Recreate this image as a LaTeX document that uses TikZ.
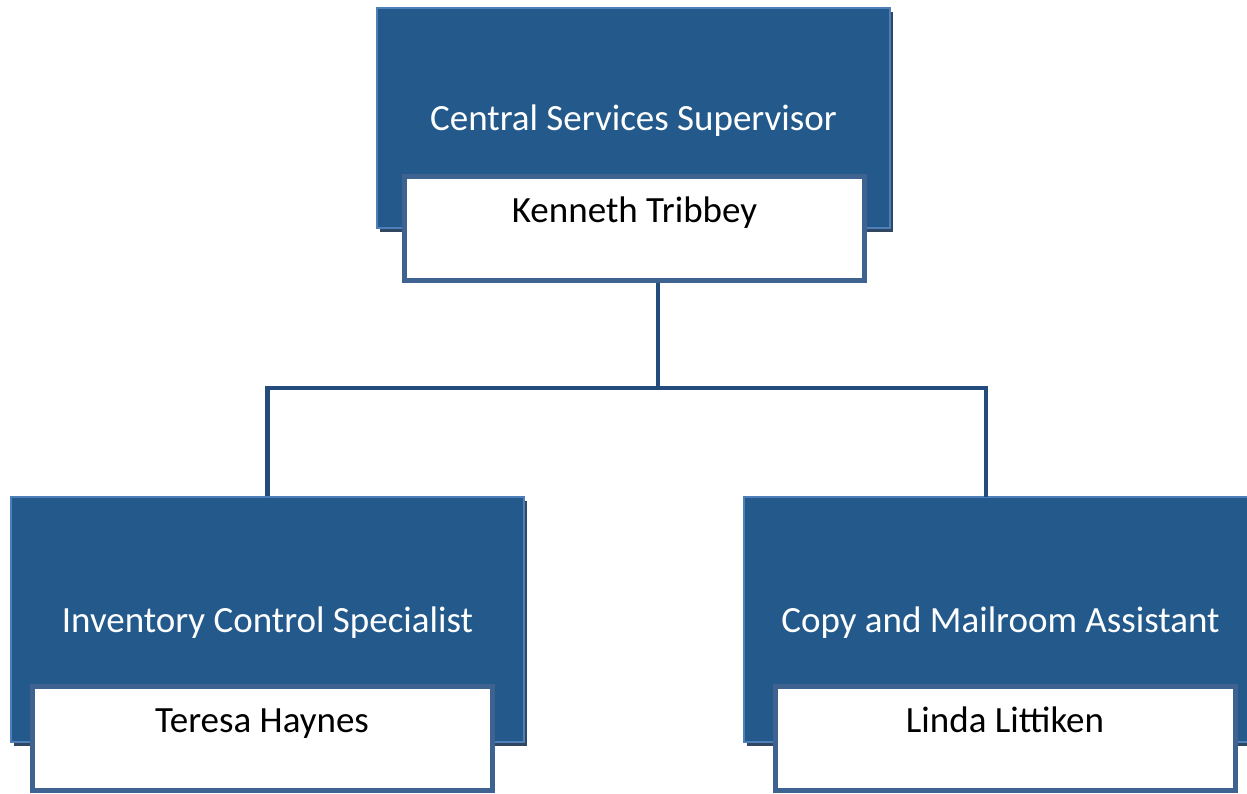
\documentclass[tikz,border=0pt]{standalone}
\usepackage{fontspec}
\setmainfont{Carlito}
\usetikzlibrary{positioning,shadows}
\definecolor{rolefill}{HTML}{245A8B}
\definecolor{roleedge}{HTML}{4F7FBA}
\definecolor{nameedge}{HTML}{3E6391}
\definecolor{linkblue}{HTML}{234B7C}
\definecolor{roleshade}{HTML}{1A3350}
\tikzset{%
  rolebox/.style={draw=roleedge,line width=2pt,fill=rolefill,text=white,
    minimum width=513pt,inner sep=0pt,text depth=0pt,font=\fontsize{37}{44}\selectfont,
    drop shadow={shadow xshift=3pt,shadow yshift=-4pt,fill=roleshade,opacity=.9}},
  namebox/.style={draw=nameedge,line width=5pt,fill=white,text=black,
    minimum width=460pt,inner xsep=0pt,inner ysep=0pt,
    text height=46pt,text depth=58pt,font=\fontsize{37}{44}\selectfont},
  link/.style={draw=linkblue,line width=4.5pt}
}
\begin{document}
\begin{tikzpicture}[x=1pt,y=-1pt]
  \useasboundingbox (0,0) rectangle (1247,793);
  % supervisor
  \node[rolebox,minimum height=220pt] (csrole) at (633.5,118) {Central Services Supervisor};
  \node[namebox] (csname) at (634.5,228) {Kenneth Tribbey};
  % staff
  \node[rolebox,minimum height=245pt] (icsrole) at (267.5,619.5) {Inventory Control Specialist};
  \node[namebox] (icsname) at (262,738.5) {Teresa Haynes};
  \node[rolebox,minimum height=245pt] (cmarole) at (1000.5,619.5) {Copy and Mailroom Assistant};
  \node[namebox] (cmaname) at (1005,738.5) {Linda Littiken};
  % connectors
  \coordinate (bus) at (658,388);
  \coordinate (cmadrop) at (986,497);
  \draw[link] (csname.south -| bus) -- (bus);
  \draw[link] (icsrole.north) |- (bus) -| (cmadrop);
\end{tikzpicture}
\end{document}
